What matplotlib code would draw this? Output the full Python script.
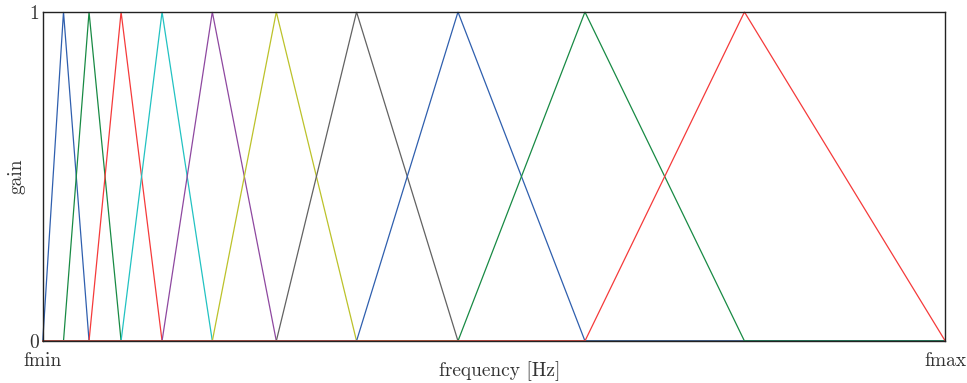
import matplotlib
matplotlib.use("Agg")
import matplotlib.pyplot as plt

plt.rcParams["font.family"] = ["cmr10", "DejaVu Serif"]
plt.rcParams["mathtext.fontset"] = "cm"
plt.rcParams["axes.unicode_minus"] = False

# Band edges of the triangular filterbank (normalised frequency, fmin=0, fmax=1)
edges = [0.0, 0.0230, 0.0513, 0.0868, 0.1322, 0.1879, 0.2588,
         0.3477, 0.4601, 0.6008, 0.7775, 1.0]
filter_colors = ["#2f5fae", "#188a44", "#f53a3a", "#22c2c2", "#8e48a0",
                 "#bcc22a", "#626262", "#2f5fae", "#188a44", "#f53a3a"]
x_tick_labels = ["fmin", "fmax"]
y_tick_labels = ["0", "1"]

fig = plt.figure(figsize=(9.67, 3.83), dpi=100)
ax = fig.add_axes([0.0442, 0.1097, 0.9333, 0.859])

fmin, fmax = edges[0], edges[-1]
for i, col in enumerate(filter_colors):
    lo, mid, hi = edges[i], edges[i + 1], edges[i + 2]
    ax.plot([fmin, lo, mid, hi, fmax], [0, 0, 1, 0, 0], color=col,
            lw=0.9, solid_joinstyle="miter", clip_on=False)

ax.set_xlim(fmin, fmax)
ax.set_ylim(0, 1)
ax.set_xticks([fmin, fmax])
ax.set_xticklabels(x_tick_labels)
ax.set_yticks([0, 1])
ax.set_yticklabels(y_tick_labels)
ax.tick_params(length=0, labelsize=14, colors="#333333")
ax.tick_params(axis="x", pad=8)
ax.tick_params(axis="y", pad=3)
for s in ax.spines.values():
    s.set_color("#222222")
    s.set_linewidth(1.0)
ax.set_xlabel("frequency [Hz]", fontsize=14, color="#333333")
ax.xaxis.set_label_coords(0.506, -0.062)
ax.set_ylabel("gain", fontsize=14, color="#333333")
ax.yaxis.set_label_coords(-0.019, 0.5)

fig.savefig("out.png", dpi=100)
